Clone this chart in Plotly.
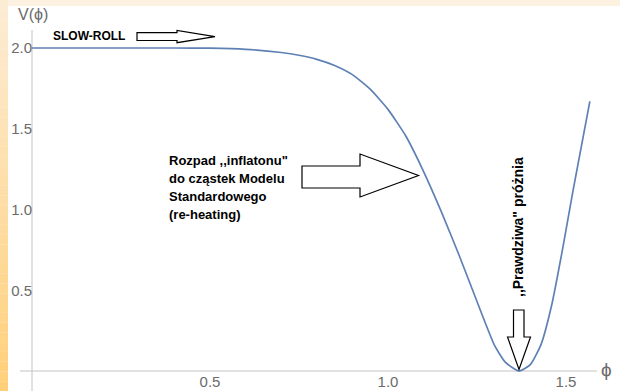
import plotly.graph_objects as go

# ---- data ----
phi = [0.0, 0.1, 0.2, 0.3, 0.4, 0.5, 0.6, 0.7, 0.75, 0.8, 0.85, 0.9, 0.95, 1.0, 1.05,
       1.1, 1.15, 1.2, 1.25, 1.3, 1.33, 1.368, 1.40, 1.43, 1.46, 1.49, 1.52, 1.567]
V = [2.0, 2.0, 2.0, 2.0, 2.0, 1.999, 1.992, 1.972, 1.955, 1.930, 1.892, 1.835, 1.745, 1.62,
     1.455, 1.235, 0.985, 0.715, 0.43, 0.155, 0.053, 0.0, 0.04, 0.165, 0.41, 0.75, 1.12, 1.67]

x_tick_vals = [0.5, 1.0, 1.5]
x_tick_text = ["0.5", "1.0", "1.5"]
y_tick_vals = [0.5, 1.0, 1.5, 2.0]
y_tick_text = ["0.5", "1.0", "1.5", "2.0"]

# ---- layout geometry (pixels) ----
W, H = 620, 391
X0PX, XSCALE = 32, 356      # pixel of phi=0, pixels per unit
Y0PX, YSCALE = 371, 161.5   # pixel of V=0, pixels per unit


def P(x, y):
    return x / W, 1 - y / H


def path(points):
    pts = [P(x, y) for x, y in points]
    return "M" + " L".join(f"{a:.5f},{b:.5f}" for a, b in pts) + " Z"


FONT = "Liberation Sans, Arial, sans-serif"
GRAY = "#6b6b6b"
AXIS = "#c4c4c4"

fig = go.Figure()
fig.add_trace(go.Scatter(
    x=phi, y=V, mode="lines",
    line=dict(color="#5E81B5", width=1.7, shape="spline", smoothing=0.5),
    hoverinfo="skip", showlegend=False))

shapes = []
# left strip gradient (slide background)
n = 40
for i in range(n):
    t = i / (n - 1)
    r = 252 + (255 - 252) * t
    g = 236 + (208 - 236) * t
    b = 212 + (122 - 212) * t
    shapes.append(dict(type="rect", xref="paper", yref="paper",
                       x0=0, x1=8 / W, y0=1 - (i + 1) / n, y1=1 - i / n,
                       fillcolor=f"rgb({r:.0f},{g:.0f},{b:.0f})", line=dict(width=0),
                       layer="below"))
# white chart area
shapes.append(dict(type="rect", xref="paper", yref="paper",
                   x0=8 / W, x1=1, y0=0, y1=1 - 6 / H,
                   fillcolor="white", line=dict(width=0), layer="below"))
# axis lines
shapes.append(dict(type="line", xref="x", yref="y",
                   x0=0, x1=0, y0=-20 / YSCALE, y1=(Y0PX - 30) / YSCALE,
                   line=dict(color=AXIS, width=1), layer="below"))
shapes.append(dict(type="line", xref="x", yref="y",
                   x0=(20 - X0PX) / XSCALE, x1=(597 - X0PX) / XSCALE, y0=0, y1=0,
                   line=dict(color=AXIS, width=1), layer="below"))

arrow_style = dict(type="path", xref="paper", yref="paper",
                   fillcolor="white", line=dict(color="black", width=1.2), layer="above")
# SLOW-ROLL arrow
shapes.append(dict(arrow_style, path=path([(137, 32.7), (177, 32.7), (177, 30.5), (215, 36.7),
                                           (177, 42.7), (177, 40.5), (137, 40.5)])))
# re-heating arrow
shapes.append(dict(arrow_style, path=path([(302, 166), (360, 166), (360, 154), (418.5, 175.5),
                                           (360, 197), (360, 188), (302, 188)])))
# true vacuum arrow
shapes.append(dict(arrow_style, path=path([(513.5, 310), (524, 310), (524, 337), (530.5, 337),
                                           (519, 369.5), (507.5, 337), (513.5, 337)])))

ann = []


def text(x, y, s, size=13, color="black", bold=True, xanchor="left", angle=0):
    ax, ay = P(x, y)
    ann.append(dict(x=ax, y=ay, xref="paper", yref="paper", text=f"<b>{s}</b>" if bold else s,
                    showarrow=False, xanchor=xanchor, yanchor="middle", textangle=angle,
                    font=dict(family=FONT, size=size, color=color)))


text(51, 36, "SLOW-ROLL", size=12)
text(167, 160.5, "Rozpad ,,inflatonu\"", size=13)
text(167, 178.5, "do cząstek Modelu", size=13)
text(167, 196.5, "Standardowego", size=13)
text(167, 214.5, "(re-heating)", size=13)
text(517.5, 227.5, ",,Prawdziwa\" próżnia", size=14, xanchor="center", angle=-90)
text(33, 15, "V(\u03d5)", size=16, color=GRAY, bold=False, xanchor="center")
text(606, 369, "\u03d5", size=19, color=GRAY, bold=False, xanchor="center")

fig.update_layout(
    width=W, height=H, margin=dict(l=0, r=0, t=0, b=0),
    paper_bgcolor="rgb(253,242,226)", plot_bgcolor="rgba(0,0,0,0)",
    shapes=shapes, annotations=ann, showlegend=False,
    xaxis=dict(range=[-X0PX / XSCALE, (W - X0PX) / XSCALE], domain=[0, 1],
               anchor="free", position=1 - Y0PX / H,
               showgrid=False, zeroline=False, showline=False, ticks="",
               tickvals=x_tick_vals, ticktext=x_tick_text, automargin=False,
               tickfont=dict(family=FONT, size=15, color=GRAY)),
    yaxis=dict(range=[(Y0PX - H) / YSCALE, Y0PX / YSCALE], domain=[0, 1],
               anchor="free", position=X0PX / W,
               showgrid=False, zeroline=False, showline=False, ticks="",
               tickvals=y_tick_vals, ticktext=y_tick_text, automargin=False,
               tickfont=dict(family=FONT, size=15, color=GRAY)),
)

fig.write_html("out.html", config={"displayModeBar": False},
               post_script="document.body.style.margin='0';document.body.style.padding='0';"
                           "document.documentElement.style.overflow='hidden';")
